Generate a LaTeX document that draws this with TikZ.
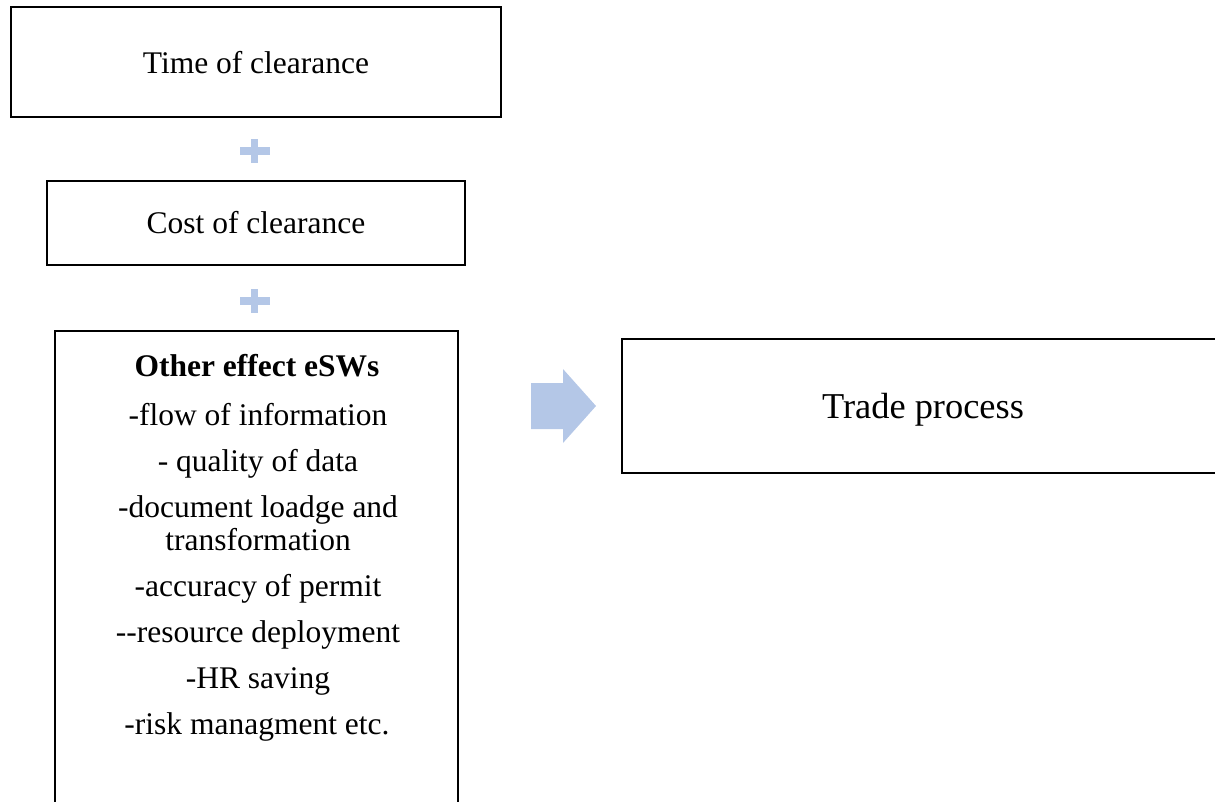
\documentclass[tikz,border=0pt]{standalone}
\usepackage{fontspec}
\setmainfont{Liberation Serif}
\begin{document}
\begin{tikzpicture}[x=1pt,y=-1pt,
  box/.style={draw=black,line width=2pt,inner sep=0pt},
  txt/.style={font=\fontsize{31.5}{33}\selectfont,anchor=base,inner sep=0pt},
  bigtxt/.style={font=\fontsize{36.4}{40}\selectfont,anchor=base,inner sep=0pt},
  edge/.style={draw=black,line width=2pt},
  plusfill/.style={fill=plusblue,draw=none}]
\definecolor{plusblue}{HTML}{B4C7E7}
\useasboundingbox (0,0) rectangle (1215,801);
\clip (0,0) rectangle (1215,801);
% box 1
\node[box,minimum width=490pt,minimum height=110pt] (b1) at (256,62) {};
\node[txt] (t1) at (256,73) {Time of clearance};
% plus 1
\coordinate (p1) at (254.5,151);
\fill[plusfill] ([xshift=-15pt,yshift=-4pt]p1) rectangle ([xshift=15pt,yshift=4pt]p1);
\fill[plusfill] ([xshift=-3.8pt,yshift=-12pt]p1) rectangle ([xshift=3.8pt,yshift=12pt]p1);
% box 2
\node[box,minimum width=418pt,minimum height=84pt] (b2) at (256,223) {};
\node[txt] (t2) at (256,233) {Cost of clearance};
% plus 2
\coordinate (p2) at (254.5,301);
\fill[plusfill] ([xshift=-15pt,yshift=-4pt]p2) rectangle ([xshift=15pt,yshift=4pt]p2);
\fill[plusfill] ([xshift=-3.8pt,yshift=-12pt]p2) rectangle ([xshift=3.8pt,yshift=12pt]p2);
% box 3 (open at the bottom)
\coordinate (b3a) at (55,820);
\coordinate (b3b) at (55,331);
\coordinate (b3c) at (458,331);
\coordinate (b3d) at (458,820);
\draw[edge] (b3a) -- (b3b) -- (b3c) -- (b3d);
\node[txt,font=\fontsize{31.5}{33}\selectfont\bfseries] (h3) at (257,376) {Other effect eSWs};
\node[txt] (l1) at (258,425) {-flow of information};
\node[txt] (l2) at (258,471) {- quality of data};
\node[txt] (l3) at (258,517) {-document loadge and};
\node[txt] (l3b) at (258,550) {transformation};
\node[txt] (l4) at (258,596) {-accuracy of permit};
\node[txt] (l5) at (258,642) {-{}-resource deployment};
\node[txt] (l6) at (258,688) {-HR saving};
\node[txt] (l7) at (257,734) {-risk managment etc.};
% arrow
\fill[plusblue] (531,383) -- (563,383) -- (563,369) -- (596,406) -- (563,443) -- (563,429) -- (531,429) -- cycle;
% box 4 (open at the right)
\coordinate (b4a) at (1230,338.5);
\coordinate (b4b) at (622,338.5);
\coordinate (b4c) at (622,473);
\coordinate (b4d) at (1230,473);
\draw[edge] (b4a) -- (b4b) -- (b4c) -- (b4d);
\node[bigtxt] (t4) at (923,418) {Trade process};
\end{tikzpicture}
\end{document}
